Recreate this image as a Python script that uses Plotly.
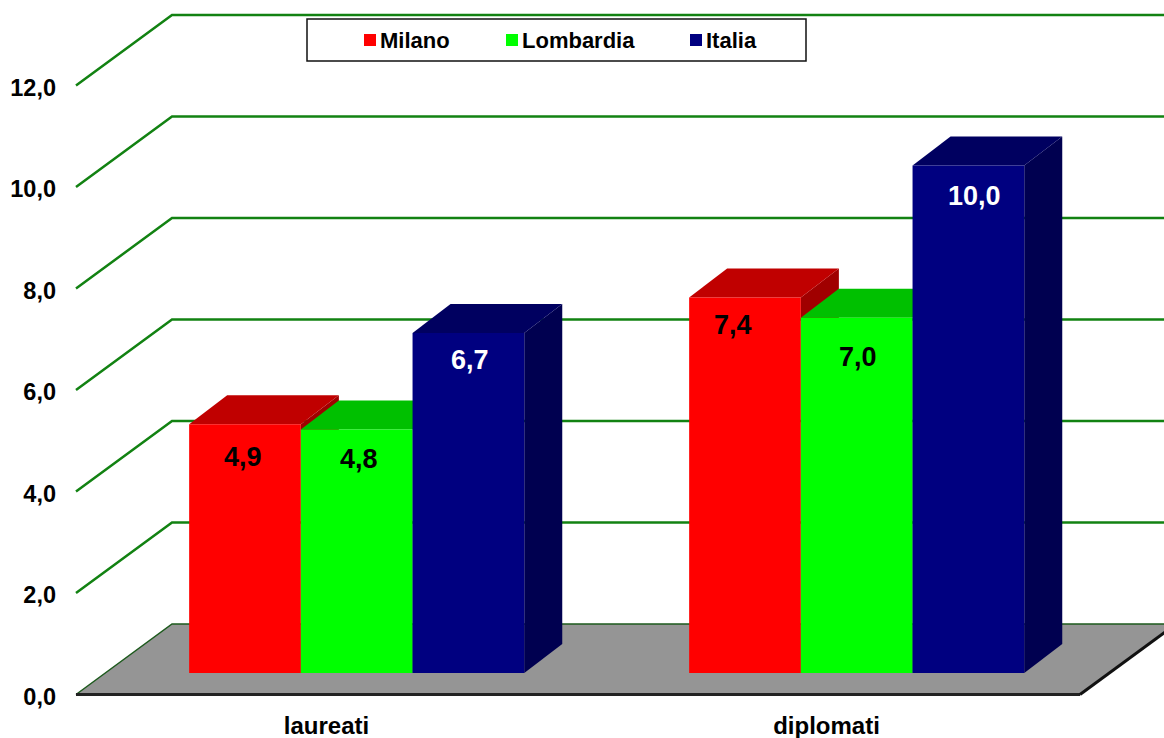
import plotly.graph_objects as go

# Data
categories = ["laureati", "diplomati"]
series_names = ["Milano", "Lombardia", "Italia"]
milano = [4.9, 7.4]
lombardia = [4.8, 7.0]
italia = [6.7, 10.0]
y_ticks = [0, 2, 4, 6, 8, 10, 12]

# Styling of the three series: front, top and side face, label colour
front_colors = ["#ff0000", "#00ff00", "#000080"]
top_colors = ["#c00000", "#00c000", "#000060"]
side_colors = ["#a00000", "#00a000", "#000050"]
label_colors = ["black", "black", "white"]

FONT = "Liberation Sans, Arial, sans-serif"
W, H = 1164, 738
M_L, M_B = 62, 29

# Axis scales: one category step is 500 px, one value unit is 50.75 px
PX_X = 500.0
PX_Y = 50.75
X0_PX = 326.5
Y0_PX = 694.5
x_range = [(M_L - X0_PX) / PX_X, (W - X0_PX) / PX_X]
y_range = [(Y0_PX - (H - M_B)) / PX_Y, Y0_PX / PX_Y]

# Pseudo-3D projection, in axis units
WALL_DX, WALL_DY = 96 / PX_X, 70.5 / PX_Y
BAR_DX, BAR_DY = 38 / PX_X, 29 / PX_Y
BAR_W = 111.7 / PX_X
BAR_SHIFT_X, BAR_BASE = 30.2 / PX_X, 21.5 / PX_Y
FLOOR_L, FLOOR_R = (76 - X0_PX) / PX_X, (1080 - X0_PX) / PX_X
WALL_R = x_range[1] + 0.05

# Small pixel nudges for the value labels, per series and category
label_dx = [[-2, -12], [2, 1], [2, 6]]
label_dy = [[-33, -28], [-30, -39], [-27, -30]]


def poly(points, fill):
    d = "M" + " L".join(f"{x},{y}" for x, y in points) + " Z"
    return dict(type="path", path=d, xref="x", yref="y", layer="below",
                fillcolor=fill, line=dict(width=0))


def line(points, color, width, dash="solid"):
    d = "M" + " L".join(f"{x},{y}" for x, y in points)
    return dict(type="path", path=d, xref="x", yref="y", layer="below",
                line=dict(color=color, width=width, dash=dash))


shapes = []

# Floor of the chart box
shapes.append(poly([(FLOOR_L, 0), (FLOOR_R, 0),
                    (FLOOR_R + WALL_DX, WALL_DY), (FLOOR_L + WALL_DX, WALL_DY)],
                   "#959595"))

# Gridlines: a diagonal on the side wall, then straight across the back wall
for t in y_ticks:
    pts = [(FLOOR_L, t), (FLOOR_L + WALL_DX, t + WALL_DY), (WALL_R, t + WALL_DY)]
    if t == 0:
        shapes.append(line(pts, "#1d5a1d", 1.5))
    else:
        shapes.append(line(pts, "#128212", 2.5))

# Front and right edges of the floor
shapes.append(line([(FLOOR_L, 0), (FLOOR_R, 0)], "#222222", 3))
shapes.append(line([(FLOOR_R, 0), (FLOOR_R + WALL_DX, WALL_DY)], "#111111", 3))

all_values = [milano, lombardia, italia]
annotations = []
fig = go.Figure()

for s, (name, values) in enumerate(zip(series_names, all_values)):
    xs = [c + BAR_SHIFT_X + (s - 1) * BAR_W for c in range(len(categories))]
    fig.add_trace(go.Bar(
        x=xs, y=values, base=BAR_BASE, width=BAR_W, name=name,
        marker=dict(color=front_colors[s], line=dict(width=0)),
        showlegend=False, hoverinfo="skip",
    ))
    for c, (x, v) in enumerate(zip(xs, values)):
        xl, xr = x - BAR_W / 2, x + BAR_W / 2
        top = BAR_BASE + v
        # Side face, then top face, receding towards the back wall
        shapes.append(poly([(xr, BAR_BASE), (xr + BAR_DX, BAR_BASE + BAR_DY),
                            (xr + BAR_DX, top + BAR_DY), (xr, top)], side_colors[s]))
        shapes.append(poly([(xl, top), (xr, top),
                            (xr + BAR_DX, top + BAR_DY), (xl + BAR_DX, top + BAR_DY)],
                           top_colors[s]))
        annotations.append(dict(
            x=x, y=top, xref="x", yref="y", showarrow=False,
            text=f"{v:.1f}".replace(".", ","),
            xshift=label_dx[s][c], yshift=label_dy[s][c],
            xanchor="center", yanchor="middle",
            font=dict(family=FONT, size=27, color=label_colors[s], weight="bold"),
        ))

# Legend box with one swatch and caption per series
plot_w, plot_h = W - M_L, H - M_B


def px(x):
    return (x - M_L) / plot_w


def py(y):
    return 1 - y / plot_h


shapes.append(dict(type="rect", xref="paper", yref="paper", layer="above",
                   x0=px(307), x1=px(806), y0=py(61), y1=py(19),
                   fillcolor="white", line=dict(color="#111111", width=1.5)))
swatch_left = [364, 506, 690]
for s, name in enumerate(series_names):
    shapes.append(dict(type="rect", xref="paper", yref="paper", layer="above",
                       x0=px(swatch_left[s]), x1=px(swatch_left[s] + 12),
                       y0=py(46), y1=py(34),
                       fillcolor=front_colors[s], line=dict(width=0)))
    annotations.append(dict(
        x=px(swatch_left[s] + 14), y=py(40), xref="paper", yref="paper",
        text=name, showarrow=False, xanchor="left", yanchor="middle",
        font=dict(family=FONT, size=22, color="black", weight="bold"),
    ))

fig.update_layout(
    width=W, height=H,
    margin=dict(l=M_L, r=0, t=0, b=M_B, pad=0),
    paper_bgcolor="white", plot_bgcolor="white",
    barmode="overlay", showlegend=False,
    shapes=shapes, annotations=annotations,
    xaxis=dict(
        range=x_range, tickmode="array",
        tickvals=list(range(len(categories))), ticktext=categories,
        showgrid=False, zeroline=False, showline=False, ticks="",
        tickfont=dict(family=FONT, size=24, color="black", weight="bold"),
    ),
    yaxis=dict(
        range=y_range, tickmode="array", tickvals=y_ticks,
        ticktext=[f"{t:.1f}".replace(".", ",") for t in y_ticks],
        showgrid=False, zeroline=False, showline=False, ticks="",
        ticklabelstandoff=5, ticklabelshift=2,
        tickfont=dict(family=FONT, size=23.5, color="black", weight="bold"),
    ),
)

fig.write_html("out.html", config=dict(displayModeBar=False))
